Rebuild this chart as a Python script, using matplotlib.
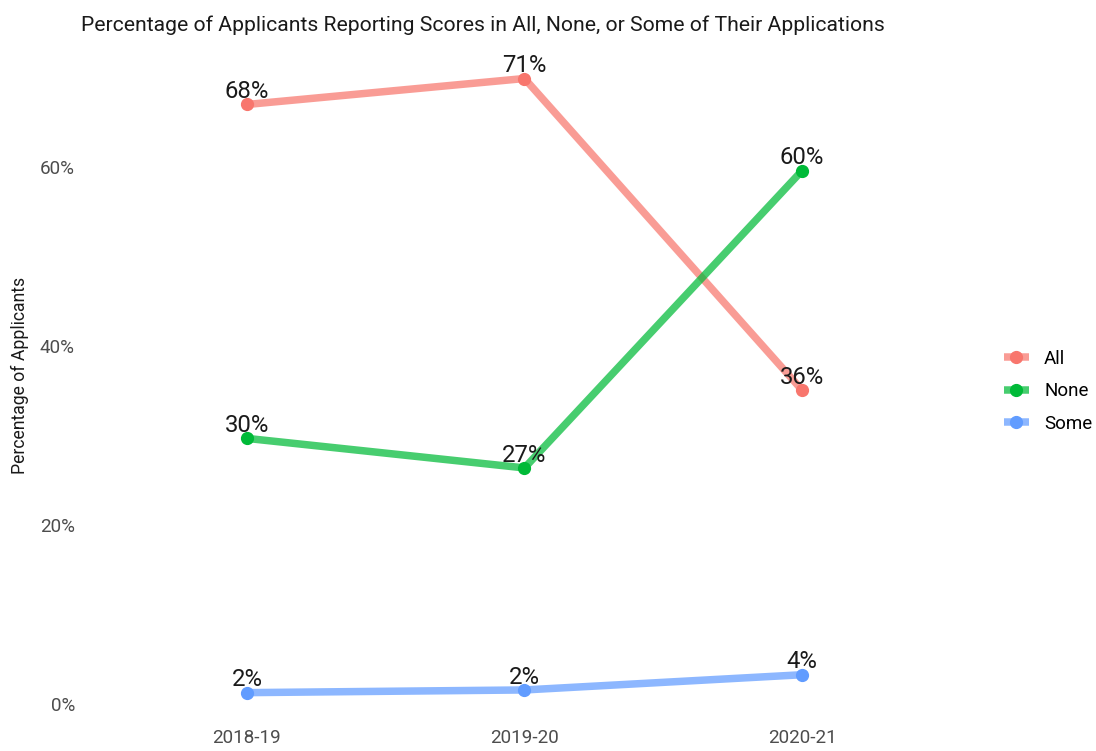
import matplotlib
matplotlib.use("Agg")
import matplotlib.pyplot as plt
from matplotlib.legend_handler import HandlerTuple

plt.rcParams['font.family'] = ['Roboto', 'DejaVu Sans']

# data
years = ['2018-19', '2019-20', '2020-21']
all_vals = [67.0, 69.9, 35.1]
none_vals = [29.7, 26.4, 59.6]
some_vals = [1.3, 1.6, 3.3]
all_labels = ['68%', '71%', '36%']
none_labels = ['30%', '27%', '60%']
some_labels = ['2%', '2%', '4%']

series = [
    ('All', all_vals, all_labels, '#F8766D'),
    ('None', none_vals, none_labels, '#00BA38'),
    ('Some', some_vals, some_labels, '#619CFF'),
]

fig = plt.figure(figsize=(10.96, 7.51), dpi=100)
ax = fig.add_axes([0.0734, 0.0373, 0.8103, 0.8987])

x = list(range(len(years)))
handles = []
for name, vals, labels, col in series:
    ln, = ax.plot(x, vals, color=col, alpha=0.72, lw=5.4, solid_capstyle='butt', zorder=2)
    pt, = ax.plot(x, vals, 'o', color=col, ms=8.5, zorder=3, lw=0)
    for xi, v, lab in zip(x, vals, labels):
        ax.annotate(lab, (xi, v), xytext=(0, 4.5), textcoords='offset points',
                    ha='center', va='baseline', fontsize=17.2, color='#1a1a1a', zorder=4)
    handles.append((ln, pt))

ax.set_xlim(-0.6, 2.6)
ax.set_ylim(-2.09, 73.3)
ax.set_xticks(x)
ax.set_xticklabels(years)
ax.set_yticks([0, 20, 40, 60])
ax.set_yticklabels(['0%', '20%', '40%', '60%'])
ax.tick_params(length=0, labelsize=13.6, labelcolor='#4D4D4D', pad=4)
for s in ax.spines.values():
    s.set_visible(False)
ax.set_ylabel('Percentage of Applicants', fontsize=12.7, color='#1a1a1a')
ax.yaxis.set_label_coords(-0.058, 0.515)

fig.text(0.074, 0.966, 'Percentage of Applicants Reporting Scores in All, None, or Some of Their Applications',
         fontsize=15.2, color='#1a1a1a', ha='left', va='center')

leg = fig.legend(handles, [s[0] for s in series], loc='center left',
                 bbox_to_anchor=(0.909, 0.479), frameon=False, fontsize=13.5,
                 handler_map={tuple: HandlerTuple(ndivide=1)},
                 handlelength=1.35, labelspacing=0.77, handletextpad=0.8,
                 borderpad=0.2, borderaxespad=0.2)

fig.savefig('out.png', dpi=100)
